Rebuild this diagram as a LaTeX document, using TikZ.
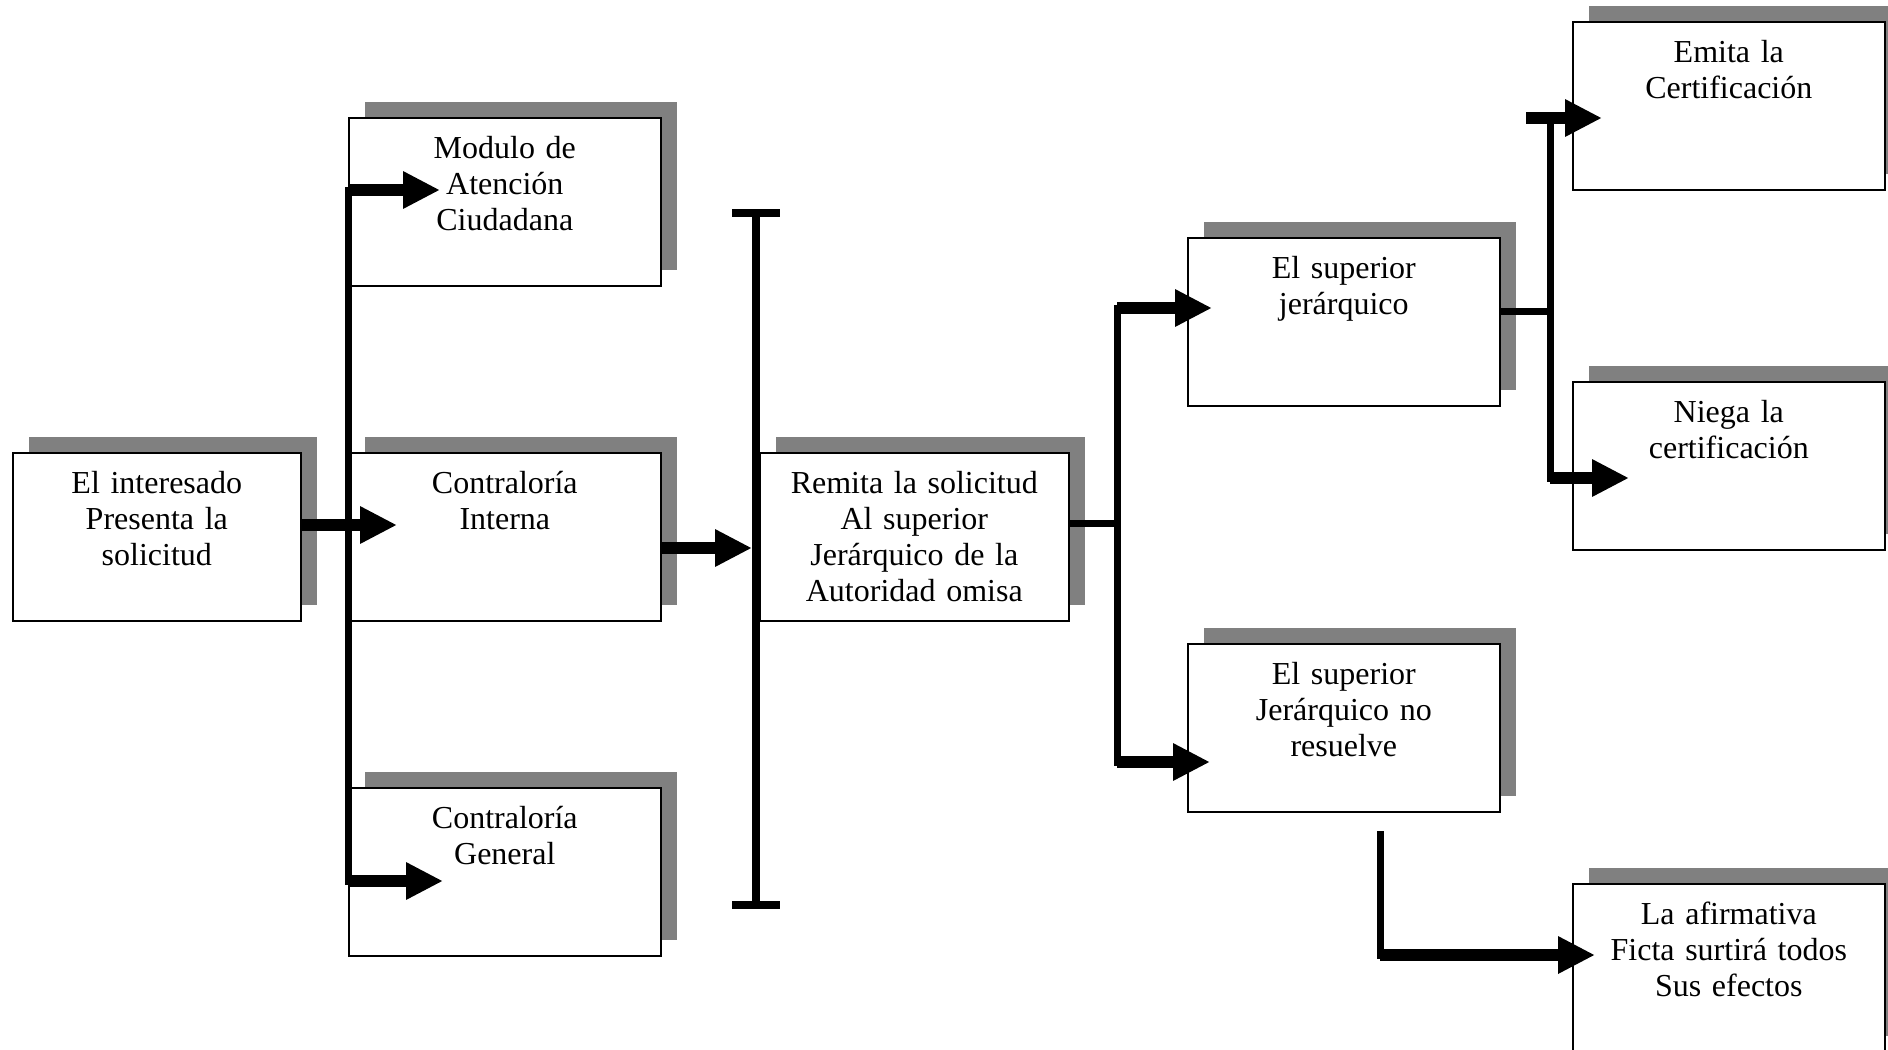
\documentclass[tikz,border=0pt]{standalone}
\usepackage{fontspec}
\setmainfont{Liberation Serif}
\usetikzlibrary{arrows.meta,calc,positioning,shadows}

\begin{document}
\begin{tikzpicture}[
    x=0.5pt, y=-0.5pt,
    box/.style={draw, line width=0.8pt, fill=white, anchor=north west,
      inner sep=0pt, text width=156pt, align=center,
      text height=20.3pt, text depth=63.7pt,
      font=\fontsize{16pt}{18pt}\selectfont,
      drop shadow={shadow xshift=8pt, shadow yshift=8pt, fill=gray, opacity=1}},
    arr/.style={line width=6pt, -{Triangle[length=18.5pt,width=17.5pt]}},
    spine/.style={line width=3.5pt, line cap=rect},
    link/.style={line width=3.5pt},
    barline/.style={line width=4pt},
]
\useasboundingbox (0,0) rectangle (1888,1049);

% ---------- boxes ----------
\node[box, text width=144pt] (inter) at (12,452) {El interesado\\Presenta la\\solicitud};
\node[box] (modulo)   at (348,117) {Modulo de\\Atención\\Ciudadana};
\node[box] (cinterna) at (348,452) {Contraloría\\Interna};
\node[box] (cgeneral) at (348,787) {Contraloría\\General};
\node[box, text width=154.5pt] (remita) at (759,452) {Remita la solicitud\\Al superior\\Jerárquico de la\\Autoridad omisa};
\node[box] (superior)   at (1187,237) {El superior\\jerárquico};
\node[box] (noresuelve) at (1187,643) {El superior\\Jerárquico no\\resuelve};
\node[box] (emita)  at (1572,21)  {Emita la\\Certificación};
\node[box] (niega)  at (1572,381) {Niega la\\certificación};
\node[box] (afirma) at (1572,883) {La afirmativa\\Ficta surtirá todos\\Sus efectos};

% ---------- left spine ----------
\coordinate (ltop) at (348,190);
\coordinate (lbot) at (348,881);
\coordinate (tipM) at (440,190);
\coordinate (tipI) at (397,525);
\coordinate (tipG) at (443,881);
\draw[spine] (ltop) -- (lbot);
\draw[arr] (ltop) -- (tipM);
\draw[arr] (inter.east |- tipI) -- (tipI);
\draw[arr] (lbot) -- (tipG);

% ---------- bar ----------
\coordinate (bartop) at (756,213);
\coordinate (barbot) at (756,905);
\coordinate (tipB) at (752,548);
\draw[barline] (bartop) -- (barbot);
\draw[barline] ($(bartop)+(-24,0)$) -- ($(bartop)+(24,0)$);
\draw[barline] ($(barbot)+(-24,0)$) -- ($(barbot)+(24,0)$);
\draw[arr] (cinterna.east |- tipB) -- (tipB);

% ---------- right spine ----------
\coordinate (rmid) at (1117,523);
\coordinate (rtop) at (1117,308);
\coordinate (rbot) at (1117,762);
\coordinate (tipS) at (1212,308);
\coordinate (tipN) at (1210,762);
\draw[link] (remita.east |- rmid) -- (rmid);
\draw[spine] (rtop) -- (rbot);
\draw[arr] (rtop) -- (tipS);
\draw[arr] (rbot) -- (tipN);

% ---------- certification spine ----------
\coordinate (cmid) at (1550,311);
\coordinate (ctop) at (1550,118);
\coordinate (cbot) at (1550,478);
\coordinate (estart) at (1526,118);
\coordinate (tipE) at (1602,118);
\coordinate (tipC) at (1629,478);
\draw[link] (superior.east |- cmid) -- (cmid);
\draw[spine] (ctop) -- (cbot);
\draw[arr] (estart) -- (tipE);
\draw[arr] (cbot) -- (tipC);

% ---------- afirmativa ficta ----------
\coordinate (ftop) at (1380,834);
\coordinate (fbot) at (1380,955);
\coordinate (tipF) at (1595,955);
\draw[spine] (ftop) -- (fbot);
\draw[arr] (fbot) -- (tipF);

\end{tikzpicture}
\end{document}
